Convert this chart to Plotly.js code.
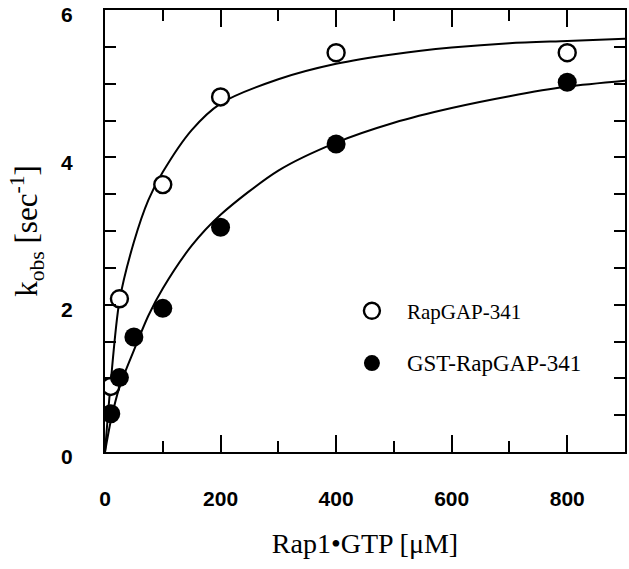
<!DOCTYPE html>
<html>
<head>
<meta charset="utf-8">
<script src="https://cdn.plot.ly/plotly-3.0.1.min.js"></script>
<style>html,body{margin:0;padding:0;background:#fff;}#chart{width:629px;height:569px;}</style>
</head>
<body>
<div id="chart"></div>
<script>
// Measured data points
const concRapGAP = [10, 25, 100, 200, 400, 800];
const kobsRapGAP = [0.89, 2.08, 3.63, 4.82, 5.42, 5.42];
const concGST = [10, 25, 50, 100, 200, 400, 800];
const kobsGST = [0.52, 1.01, 1.56, 1.95, 3.05, 4.18, 5.02];

// Fitted curves
const fitX = [0, 10, 25, 50, 75, 100, 150, 200, 300, 400, 500, 600, 700, 800, 900];
const fitRapGAP = [0, 0.95, 2.05, 2.85, 3.42, 3.80, 4.37, 4.73, 5.06, 5.27, 5.40, 5.49, 5.55, 5.58, 5.61];
const fitGST = [0, 0.42, 0.88, 1.38, 1.85, 2.22, 2.80, 3.22, 3.82, 4.20, 4.47, 4.67, 4.83, 4.96, 5.04];

const seriesNames = ['RapGAP-341', '<span style="font-size:23px">GST-RapGAP-341</span>'];
const xTitle = 'Rap1\u2022GTP [\u03BCM]';
const yTitle = 'k<sub>obs</sub> [sec<sup>-1</sup>]';

const serif = 'Liberation Serif, Times New Roman, serif';

const traces = [
  {x: fitX, y: fitRapGAP, mode: 'lines', line: {color: '#000', width: 2, shape: 'spline', smoothing: 0.8}, showlegend: false, hoverinfo: 'skip'},
  {x: fitX, y: fitGST, mode: 'lines', line: {color: '#000', width: 2, shape: 'spline', smoothing: 0.8}, showlegend: false, hoverinfo: 'skip'},
  {x: concRapGAP, y: kobsRapGAP, mode: 'markers', name: seriesNames[0], legendgroup: 'a',
   marker: {symbol: 'circle', size: 17, color: '#fff', line: {color: '#000', width: 2.4}}},
  {x: concGST, y: kobsGST, mode: 'markers', name: seriesNames[1], legendgroup: 'b',
   marker: {symbol: 'circle', size: 19, color: '#000', line: {color: '#000', width: 0}}}
];

const layout = {
  width: 629, height: 569,
  margin: {l: 105, r: 4, t: 10, b: 117},
  paper_bgcolor: '#fff', plot_bgcolor: '#fff',
  showlegend: true,
  legend: {x: 0.446, y: 0.365, xanchor: 'left', yanchor: 'top', bgcolor: 'rgba(0,0,0,0)',
    font: {family: serif, size: 21, color: '#000'}, traceorder: 'grouped', tracegroupgap: 22, itemwidth: 60},
  xaxis: {
    range: [0, 900], showgrid: false, zeroline: false,
    showline: true, linecolor: '#000', linewidth: 2, mirror: 'ticks',
    ticks: 'inside', ticklen: 17, tickwidth: 2, tickcolor: '#000',
    tick0: 0, dtick: 200, ticklabelstandoff: 27, ticklabeloverflow: 'allow',
    minor: {ticks: 'inside', ticklen: 11, tickwidth: 2, tickcolor: '#000', dtick: 100, showgrid: false},
    tickfont: {family: 'Liberation Sans, Arial, sans-serif', size: 21, color: '#000', weight: 'bold'},
    title: {text: xTitle, font: {family: serif, size: 28, color: '#000'}, standoff: 24}
  },
  yaxis: {
    range: [0, 6], showgrid: false, zeroline: false,
    showline: true, linecolor: '#000', linewidth: 2, mirror: 'ticks',
    ticks: 'inside', ticklen: 11, tickwidth: 2, tickcolor: '#000',
    tick0: 0, dtick: 2, ticklabelstandoff: 26, ticklabeloverflow: 'allow', ticklabelshift: 5,
    minor: {ticks: 'inside', ticklen: 11, tickwidth: 2, tickcolor: '#000', dtick: 0.5, showgrid: false},
    tickfont: {family: 'Liberation Sans, Arial, sans-serif', size: 21, color: '#000', weight: 'bold'},
    title: {text: yTitle, font: {family: serif, size: 31, color: '#000'}, standoff: 14}
  }
};

Plotly.newPlot('chart', traces, layout, {displayModeBar: false, staticPlot: true});
</script>
</body>
</html>
